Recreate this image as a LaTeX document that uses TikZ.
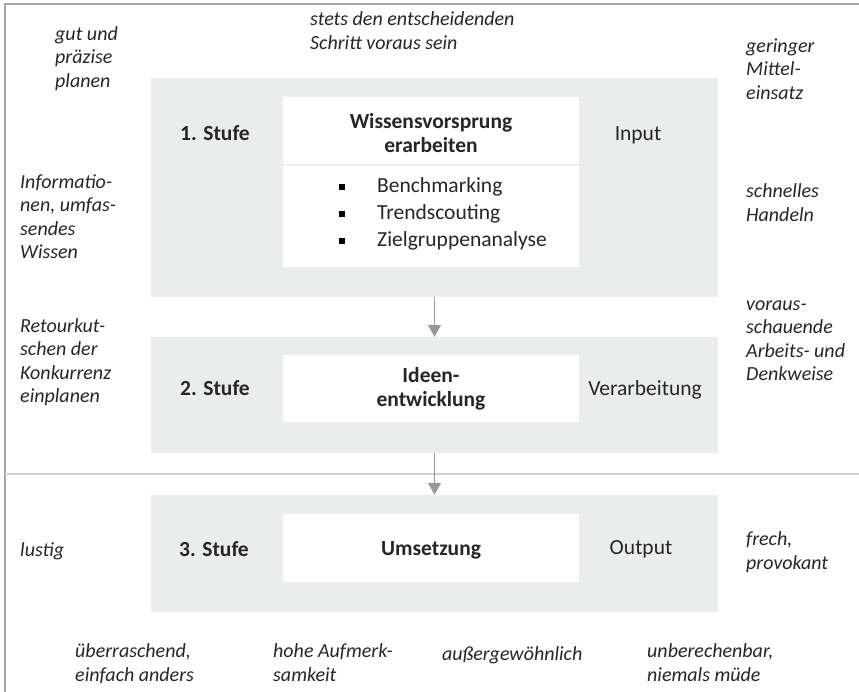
\documentclass[tikz,border=0pt]{standalone}
\usepackage{fontspec}
\setmainfont{Carlito}
\usetikzlibrary{arrows.meta}

\definecolor{stagegray}{RGB}{235,236,236}
\definecolor{ink}{RGB}{38,38,38}
\definecolor{framegray}{RGB}{166,166,166}
\definecolor{rulegray}{RGB}{208,208,208}
\definecolor{arrowgray}{RGB}{150,152,155}

\newcommand\bodysize{\fontsize{21.5}{23.5}\selectfont}
\newcommand\notesize{\fontsize{20}{23.5}\selectfont}

\tikzset{
  stagebox/.style={fill=stagegray, minimum width=567pt, inner sep=0pt},
  taskbox/.style={fill=white, minimum width=296pt, inner sep=0pt},
  head/.style={font=\bodysize\bfseries, text=ink, align=center, inner sep=0pt},
  level/.style={font=\bodysize\bfseries, text=ink, inner sep=0pt, text height=15pt, text depth=4pt},
  phase/.style={font=\bodysize, text=ink, inner sep=0pt, text height=15pt, text depth=4pt},
  item/.style={font=\bodysize, text=ink, anchor=west, inner sep=0pt, text height=15pt, text depth=4pt},
  bullet/.style={fill=black, minimum size=6pt, inner sep=0pt},
  note/.style={font=\notesize\itshape, text=ink, align=left, anchor=north west, inner sep=0pt,
    execute at begin node=\strut},
  flow/.style={arrowgray, line width=1.5pt, -{Triangle[width=13pt,length=12pt]}},
}

\begin{document}
\begin{tikzpicture}[x=1pt, y=-1pt]
\useasboundingbox (0,0) rectangle (859,692);
% frame and separator
\draw[framegray, line width=2pt] (5,692) -- (5,4) -- (859,4);
\draw[rulegray, line width=2pt] (5,474) -- (859,474);

% 1. Stufe
\node[stagebox, minimum height=219pt] (stage1) at (434.5,187.5) {};
\node[taskbox, minimum height=170pt] (task1) at (431,182) {};
\draw[stagegray, line width=1.5pt] (283,165) -- (579,165);
\node[head] (head1) at (431,133) {Wissensvorsprung\\erarbeiten};
\foreach \t [count=\i] in {Benchmarking,Trendscouting,Zielgruppenanalyse} {
  \node[bullet] (dot\i) at (342,160+27*\i) {};
  \node[item] (item\i) at (377,160+27*\i) {\t};
}
\node[level] (lvl1) at (215,135) {1. Stufe};
\node[phase] (io1) at (638,135) {Input};

% 2. Stufe
\node[stagebox, minimum height=116pt] (stage2) at (434.5,395) {};
\node[taskbox, minimum height=67pt] (task2) at (431,388.5) {};
\node[head] (head2) at (431,389) {Ideen-\\entwicklung};
\node[level] (lvl2) at (215,390) {2. Stufe};
\node[phase] (io2) at (645,390) {Verarbeitung};

% 3. Stufe
\node[stagebox, minimum height=117pt] (stage3) at (434.5,553.5) {};
\node[taskbox, minimum height=68pt] (task3) at (431,548) {};
\node[head] (head3) at (431,550) {Umsetzung};
\node[level] (lvl3) at (214,551) {3. Stufe};
\node[phase] (io3) at (641,549) {Output};

\draw[flow] (stage1) -- (stage2);
\draw[flow] (stage2) -- (stage3);

% notes
\node[note] (gut) at (55,26) {gut und\\präzise\\planen};
\node[note] (stets) at (310,11.5) {stets den entscheidenden\\Schritt voraus sein};
\node[note] (mittel) at (746,38.5) {geringer\\Mittel-\\einsatz};
\node[note] (wissen) at (20,174) {Informatio-\\nen, umfas-\\sendes\\Wissen};
\node[note] (handeln) at (746,183.5) {schnelles\\Handeln};
\node[note] (retour) at (20,318) {Retourkut-\\schen der\\Konkurrenz\\einplanen};
\node[note] (voraus) at (746,300.5) {voraus-\\schauende\\Arbeits- und\\Denkweise};
\node[note] (lustig) at (20,540) {lustig};
\node[note] (frech) at (746,531.5) {frech,\\provokant};
\node[note] (anders) at (75,643.5) {überraschend,\\einfach anders};
\node[note] (aufmerk) at (273,643.5) {hohe Aufmerk-\\samkeit};
\node[note] (aussergew) at (442,643.5) {außergewöhnlich};
\node[note] (muede) at (647,643.5) {unberechenbar,\\niemals müde};
\end{tikzpicture}
\end{document}
